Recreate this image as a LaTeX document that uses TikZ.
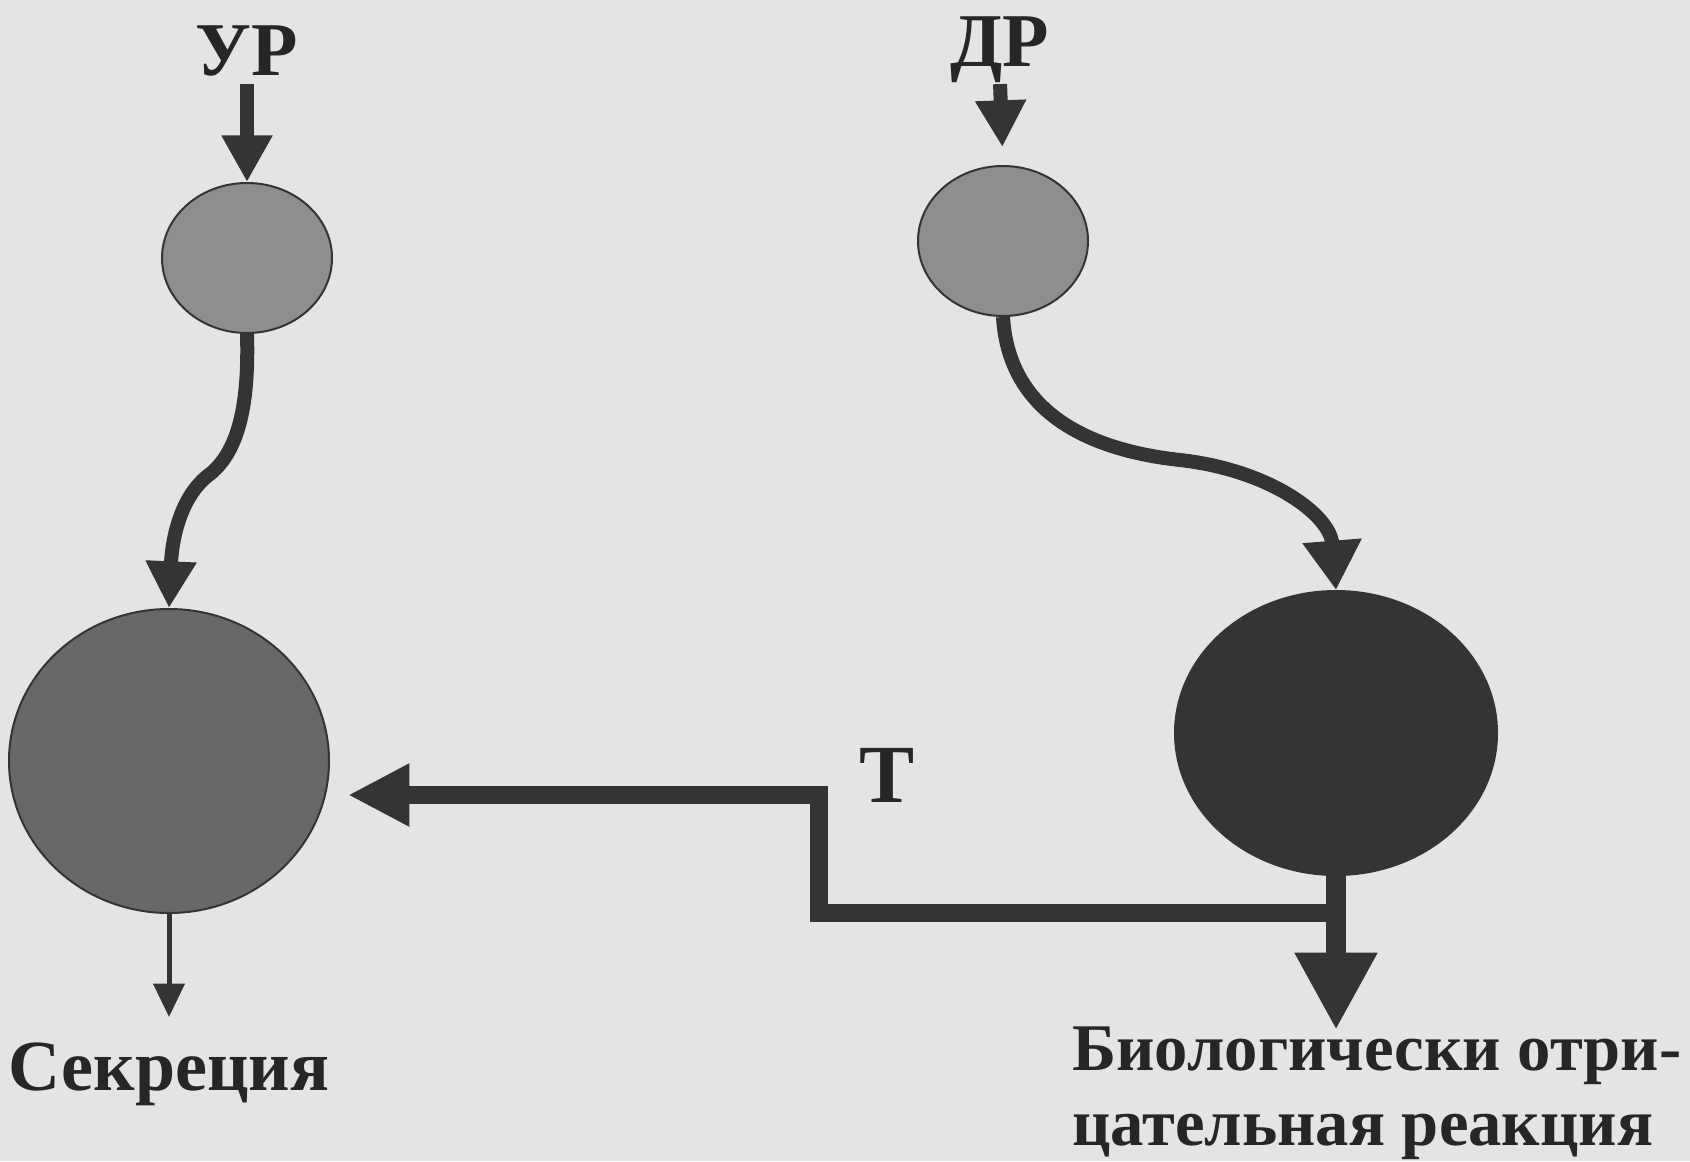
\documentclass[tikz,border=0pt]{standalone}
\usepackage{fontspec}
\setmainfont{Liberation Serif}
\usepackage{tikz}
\usetikzlibrary{shapes.geometric,arrows.meta}
\tikzset{every picture/.style={line width=0.75pt}}
\definecolor{paper}{RGB}{228,228,228}
\definecolor{ink}{RGB}{52,52,52}
\definecolor{textink}{RGB}{38,38,38}
\definecolor{cellgrey}{RGB}{142,142,142}
\definecolor{cellmid}{RGB}{104,104,104}
\definecolor{celldark}{RGB}{52,52,52}
\tikzset{
  cell/.style={ellipse, draw=ink, line width=1.5pt, inner sep=0pt},
  lbl/.style={inner sep=0pt, text=textink},
  flow/.style={draw=ink, line width=10.5pt, -{Triangle[length=35pt,width=36pt]}}
}

\begin{document}
\begin{tikzpicture}[x=0.75pt,y=0.75pt,yscale=-1,xscale=1]
%Background
\fill [paper] (0,0) rectangle (1690,1161);
\useasboundingbox (0,0) rectangle (1690,1161);

%Cells
\node [cell, fill=cellgrey, minimum width=127.5pt, minimum height=112.5pt] (smallL) at (247,258) {};
\node [cell, fill=cellmid, minimum width=240pt, minimum height=228pt] (bigL) at (169,761) {};
\node [cell, fill=cellgrey, minimum width=127.5pt, minimum height=112.5pt] (smallR) at (1003,241) {};
\node [cell, fill=celldark, minimum width=241.5pt, minimum height=213pt] (bigR) at (1336,733) {};

%Labels
\node [lbl, anchor=base, font=\bfseries\fontsize{57}{60}\selectfont] (urLabel) at (247,75) {УР};
\node [lbl, anchor=base, font=\bfseries\fontsize{57}{60}\selectfont] (drLabel) at (1000,66) {ДР};
\node [lbl, anchor=base, font=\bfseries\fontsize{62}{66}\selectfont] (tLabel) at (887,802) {Т};
\node [lbl, anchor=base, font=\bfseries\fontsize{54}{60}\selectfont] (secLabel) at (169,1090) {Секреция};
\node [lbl, anchor=base west, align=left, font=\bfseries\fontsize{50}{56}\selectfont] (bioLabel) at (1072,1145) {Биологически отри-\\цательная реакция};

%Inputs
\draw [flow, shorten <=6pt] (urLabel.south) -- (smallL.north);
\draw [flow, shorten <=1pt, shorten >=13.5pt] (drLabel.south) -- (smallR.north);

%Curved connectors
\draw [flow] (smallL.south) .. controls (249,400) and (240,450) .. (210,474) .. controls (180,496) and (172,540) .. (bigL.north);
\draw [flow, -{Triangle[length=37pt,width=42pt]}] (smallR.south) .. controls (1008,400) and (1070,448) .. (1180,460) .. controls (1270,470) and (1330,515) .. (bigR.north);

%Outputs
\coordinate (secTip) at (169,1017);
\draw [ink, line width=3.75pt, -{Triangle[length=25pt,width=23pt]}] (bigL.south) -- (secTip);
\coordinate (bioTip) at (1336,1030);
\draw [ink, line width=15pt, -{Triangle[length=58pt,width=58pt]}] (bigR.south) -- (bioTip);

%Feedback
\coordinate (fbFork) at (1336,913);
\coordinate (fbBend) at (819,795);
\draw [ink, line width=13pt, shorten >=13.5pt, -{Triangle[length=46pt,width=44pt]}] (fbFork) -| (fbBend) -- (bigL.east |- fbBend);
\end{tikzpicture}
\end{document}
